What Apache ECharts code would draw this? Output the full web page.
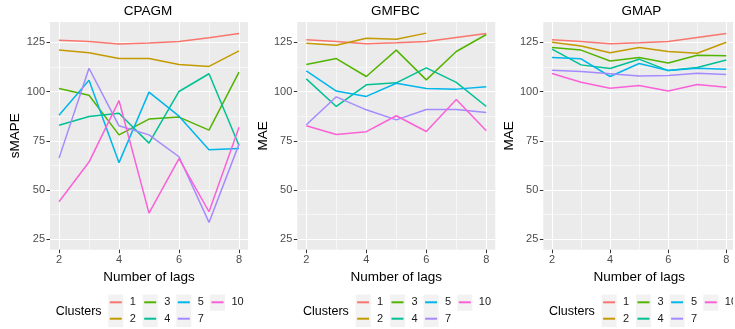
<!DOCTYPE html>
<html>
<head>
<meta charset="utf-8">
<script src="https://cdn.jsdelivr.net/npm/echarts@6/dist/echarts.min.js"></script>
<style>
html,body{margin:0;padding:0;background:#fff;}
#chart{width:735px;height:329px;}
</style>
</head>
<body>
<div id="chart"></div>
<script>
const lags = [2, 3, 4, 5, 6, 7, 8];
const clusters = ['1', '2', '3', '4', '5', '7', '10'];
const clusterColors = ['#F8766D', '#C49A00', '#53B400', '#00C094', '#00B6EB', '#A58AFF', '#FB61D7'];
const panelTitles = ['CPAGM', 'GMFBC', 'GMAP'];
const yNames = ['sMAPE', 'MAE', 'MAE'];
const xName = 'Number of lags';
const legendTitle = 'Clusters';
const xTicks = [2, 4, 6, 8];
const xMinor = [3, 5, 7];
const yTicks = [25, 50, 75, 100, 125];
const yMinor = [37.5, 62.5, 87.5, 112.5];

// CPAGM
const cpagm_c1 = [126.0, 125.3, 124.1, 124.6, 125.3, 127.3, 129.4];
const cpagm_c2 = [121.1, 119.6, 116.7, 116.7, 113.7, 112.7, 120.6];
const cpagm_c3 = [101.5, 98.1, 78.0, 86.0, 87.0, 80.4, 109.8];
const cpagm_c4 = [82.9, 87.3, 89.0, 73.8, 100.0, 109.0, 72.6];
const cpagm_c5 = [88.0, 105.7, 63.9, 99.7, 87.5, 70.4, 71.1];
const cpagm_c7 = [66.2, 111.8, 82.6, 78.0, 66.9, 33.6, 73.3];
const cpagm_c10 = [44.1, 64.2, 95.4, 38.3, 66.0, 39.0, 81.9];

// GMFBC
const gmfbc_c1 = [126.2, 125.3, 124.2, 124.7, 125.3, 127.4, 129.4];
const gmfbc_c2 = [124.5, 123.5, 127.0, 126.5, 129.6, null, null];
const gmfbc_c3 = [113.7, 116.7, 107.6, 121.0, 105.9, 120.3, 128.9];
const gmfbc_c4 = [106.4, 92.4, 103.4, 104.4, 112.0, 104.6, 92.4];
const gmfbc_c5 = [110.5, 100.2, 97.5, 104.2, 101.5, 101.2, 102.4];
const gmfbc_c7 = [83.1, 97.3, 90.7, 85.6, 90.9, 90.9, 89.4];
const gmfbc_c10 = [82.6, 78.2, 79.6, 87.7, 79.7, 95.9, 80.1];

// GMAP
const gmap_c1 = [126.2, 125.3, 124.2, 124.7, 125.3, 127.4, 129.4];
const gmap_c2 = [125.0, 123.1, 119.6, 122.3, 120.3, 119.4, 125.0];
const gmap_c3 = [122.3, 121.0, 115.5, 117.2, 114.5, 118.4, 118.1];
const gmap_c4 = [121.5, 113.5, 111.7, 116.4, 110.6, 112.2, 116.0];
const gmap_c5 = [117.2, 116.6, 107.6, 114.2, 110.6, 111.8, 111.3];
const gmap_c7 = [110.8, 110.1, 109.0, 107.8, 108.1, 109.3, 108.6];
const gmap_c10 = [109.1, 104.7, 101.7, 103.0, 100.3, 103.5, 102.2];

const panelData = [
  [cpagm_c1, cpagm_c2, cpagm_c3, cpagm_c4, cpagm_c5, cpagm_c7, cpagm_c10],
  [gmfbc_c1, gmfbc_c2, gmfbc_c3, gmfbc_c4, gmfbc_c5, gmfbc_c7, gmfbc_c10],
  [gmap_c1, gmap_c2, gmap_c3, gmap_c4, gmap_c5, gmap_c7, gmap_c10]
];

const FONT = "'Liberation Sans', Arial, Helvetica, sans-serif";
const gridLefts = [50, 297.3, 543.3];
const gridTop = 22, gridW = 198, gridH = 227.7;
const legendCols = [['1', '2'], ['3', '4'], ['5', '7'], ['10']];
const legendColX = [108.3, 142.7, 176.3, 210];

const grids = [], xAxes = [], yAxes = [], series = [], legends = [], graphics = [];

for (let p = 0; p < 3; p++) {
  const dx = gridLefts[p] - gridLefts[0];
  grids.push({left: gridLefts[p], top: gridTop, width: gridW, height: gridH,
    show: true, backgroundColor: '#EBEBEB', borderWidth: 0});
  xAxes.push({
    gridIndex: p, type: 'value', min: 1.7, max: 8.3, position: 'bottom',
    axisLine: {show: false},
    axisTick: {show: true, length: 3.5, lineStyle: {color: '#333333', width: 1}, customValues: xTicks},
    axisLabel: {customValues: xTicks, fontSize: 11, color: '#4D4D4D', margin: 4.5, fontFamily: FONT},
    splitLine: {show: true, lineStyle: {color: '#FFFFFF', width: 1.1}},
    name: xName, nameLocation: 'middle', nameGap: 17,
    nameTextStyle: {fontSize: 13.5, color: '#000000', fontFamily: FONT}
  });
  xAxes.push({
    gridIndex: p, type: 'value', min: 1.7, max: 8.3, position: 'top',
    axisLine: {show: false},
    axisTick: {show: false, customValues: xMinor},
    axisLabel: {show: false},
    splitLine: {show: true, lineStyle: {color: '#FFFFFF', width: 0.55}}
  });
  yAxes.push({
    gridIndex: p, type: 'value', min: 19.75, max: 135.25, position: 'left',
    axisLine: {show: false},
    axisTick: {show: true, length: 3.5, lineStyle: {color: '#333333', width: 1}, customValues: yTicks},
    axisLabel: {customValues: yTicks, fontSize: 11, color: '#4D4D4D', margin: 5, fontFamily: FONT},
    splitLine: {show: true, lineStyle: {color: '#FFFFFF', width: 1.1}},
    name: yNames[p], nameLocation: 'middle', nameGap: 24, nameRotate: 90,
    nameTextStyle: {fontSize: 13.5, color: '#000000', fontFamily: FONT}
  });
  yAxes.push({
    gridIndex: p, type: 'value', min: 19.75, max: 135.25, position: 'right',
    axisLine: {show: false},
    axisTick: {show: false, customValues: yMinor},
    axisLabel: {show: false},
    splitLine: {show: true, lineStyle: {color: '#FFFFFF', width: 0.55}}
  });
  clusters.forEach((c, k) => {
    series.push({
      type: 'line', name: c, xAxisIndex: 2 * p, yAxisIndex: 2 * p,
      data: lags.map((l, i) => [l, panelData[p][k][i]]),
      showSymbol: false, symbol: 'none', connectNulls: false,
      color: clusterColors[k],
      lineStyle: {width: 1.5, color: clusterColors[k]},
      emphasis: {disabled: true}, silent: true
    });
  });
  graphics.push({type: 'text', x: gridLefts[p] + gridW / 2 - 1, y: 11,
    style: {text: panelTitles[p], align: 'center', verticalAlign: 'middle',
      font: '13.5px ' + FONT, fill: '#000000'}});
  graphics.push({type: 'text', x: 55.7 + dx, y: 311.7,
    style: {text: legendTitle, align: 'left', verticalAlign: 'middle',
      font: '12.5px ' + FONT, fill: '#000000'}});
  legendCols.forEach((col, c) => {
    graphics.push({type: 'rect', z: -1,
      shape: {x: legendColX[c] + dx, y: 294.5, width: 15, height: 16.3 * col.length},
      style: {fill: '#F2F2F2'}});
    legends.push({
      data: col, orient: 'vertical', left: legendColX[c] + dx + 1.5, top: 294.1,
      padding: 0, itemGap: 0, itemWidth: 12, itemHeight: 2, icon: 'rect',
      selectedMode: false,
      textStyle: {fontSize: 11, color: '#1A1A1A', lineHeight: 16.4, fontFamily: FONT, padding: [0, 0, 0, 3]}
    });
  });
}
graphics.push({type: 'rect', z: 10, shape: {x: 733, y: 0, width: 10, height: 329}, style: {fill: '#FFFFFF'}});

const chart = echarts.init(document.getElementById('chart'), null, {renderer: 'canvas'});
chart.setOption({
  animation: false,
  backgroundColor: '#FFFFFF',
  textStyle: {fontFamily: FONT},
  grid: grids, xAxis: xAxes, yAxis: yAxes, series: series,
  legend: legends, graphic: graphics
});
</script>
</body>
</html>
